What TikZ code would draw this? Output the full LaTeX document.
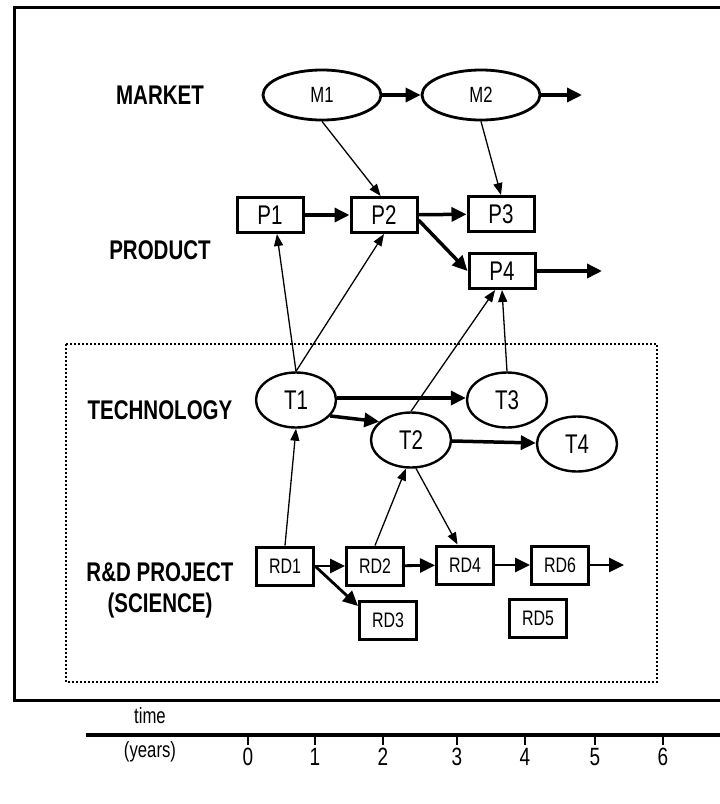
\documentclass[tikz,border=0pt]{standalone}
\usepackage{fontspec}
\newfontfamily\narrowsf[FakeStretch=0.76]{Liberation Sans}
\usetikzlibrary{arrows.meta,shapes.geometric}

\begin{document}
\begin{tikzpicture}[x=1pt,y=-1pt,
  layer/.style={font=\narrowsf\bfseries\fontsize{27}{31}\selectfont, align=center},
  mkt/.style={ellipse, draw, line width=2.8pt, minimum width=118pt, minimum height=50pt, inner sep=0pt, font=\narrowsf\fontsize{22}{24}\selectfont},
  tech/.style={ellipse, draw, line width=2.4pt, minimum width=80pt, minimum height=55pt, inner sep=0pt, font=\narrowsf\fontsize{27}{30}\selectfont},
  prod/.style={rectangle, draw, line width=3pt, minimum width=66pt, minimum height=35pt, inner sep=0pt, font=\narrowsf\fontsize{27}{30}\selectfont},
  proj/.style={rectangle, draw, line width=3pt, minimum width=57pt, minimum height=38pt, inner sep=0pt, font=\narrowsf\fontsize{21}{24}\selectfont},
  link/.style={line width=1.3pt, -{Triangle[length=12pt,width=9pt]}},
  flow/.style={line width=3.5pt, -{Triangle[length=15pt,width=14pt]}},
  yr/.style={font=\narrowsf\fontsize{25}{28}\selectfont}]
\useasboundingbox (0,0) rectangle (720,804);

% frame and the science/technology block
\draw[line width=3pt] (720,7) -- (14,7) -- (14,700) -- (720,700);
\draw[line width=1.6pt, dash pattern=on 2pt off 2pt] (66,344) rectangle (657,682);

% row labels
\node[layer] (lmarket) at (160,95) {MARKET};
\node[layer] (lproduct) at (160,250) {PRODUCT};
\node[layer] (ltech) at (160,410) {TECHNOLOGY};
\node[layer] (lproj) at (160,590) {R\&D PROJECT\\(SCIENCE)};

% market
\node[mkt] (M1) at (322,95) {M1};
\node[mkt] (M2) at (481,95) {M2};
\coordinate (Mout) at (582,95);

% products
\node[prod] (P1) at (270,215) {P1};
\node[prod] (P2) at (384,215) {P2};
\node[prod] (P3) at (501,214) {P3};
\node[prod] (P4) at (502,271) {P4};
\coordinate (Pout) at (602,271);

% technologies
\node[tech] (T1) at (296,400) {T1};
\node[tech] (T2) at (411,440) {T2};
\node[tech] (T3) at (507,400) {T3};
\node[tech] (T4) at (577,444) {T4};

% projects
\node[proj] (RD1) at (285,566) {RD1};
\node[proj] (RD2) at (375,566) {RD2};
\node[proj] (RD4) at (465,565) {RD4};
\node[proj] (RD6) at (560,565) {RD6};
\node[proj] (RD3) at (388,620) {RD3};
\node[proj] (RD5) at (538,618) {RD5};
\coordinate (Rout) at (624,565);

% sequences in time
\draw[flow] (M1) -- (M2);
\draw[flow] (M2) -- (Mout);
\draw[flow] (P1) -- (P2);
\draw[flow] (P2) -- (P3);
\draw[flow] (P2.east) ++(0,5) -- (P4.west);
\draw[flow] (P4) -- (Pout);
\draw[flow] (T1.east) ++(0,-2) -- (T3.west |- 0,398);
\draw[flow] (T1.-25) -- (T2.150);
\draw[flow] (T2) -- (T4);
\draw[flow, line width=2.8pt] (RD1) -- (RD2);
\draw[flow, line width=2.8pt] (RD1.east) -- (RD3.155);
\draw[flow, line width=2.8pt] (RD2) -- (RD4);
\draw[flow, line width=2.8pt] (RD4) -- (RD6);
\draw[flow, line width=2.8pt] (RD6) -- (Rout);

% influences between levels
\draw[link] (M1.south) -- (P2.100);
\draw[link] (M2.south) -- (P3.north);
\draw[link] (T1.north) -- (P1.-70);
\draw[link] (T1.north) -- (P2.south);
\draw[link] (T2.north) -- (P4.-110);
\draw[link] (T3.north) -- (P4.south);
\draw[link] (RD1.north) -- (T1.south);
\draw[link] (RD2.north) -- (T2.-100);
\draw[link] (T2.-80) -- (RD4.110);

% time scale
\node[font=\narrowsf\fontsize{22}{24}\selectfont] (ltime) at (150,716) {time};
\node[font=\narrowsf\fontsize{22}{24}\selectfont] (lyears) at (150,752) {(years)};
\draw[line width=3.5pt] (86,735) -- (720,735);
\foreach \x/\n in {248/0,315/1,383/2,457/3,525/4,595/5,663/6} {
  \draw[line width=2.5pt] (\x,735) -- (\x,745);
  \node[yr] (y\n) at (\x,757) {\n};
}
\end{tikzpicture}
\end{document}
